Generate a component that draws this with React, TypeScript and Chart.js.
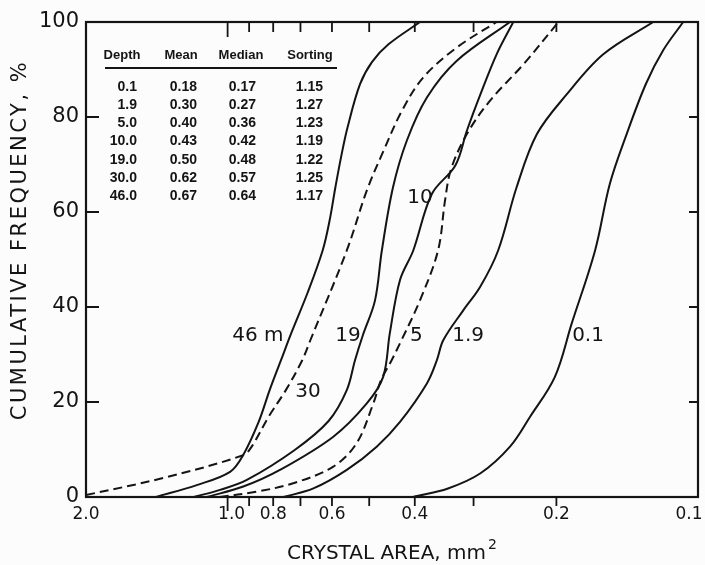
import React, { useEffect, useRef } from "react";
import { Chart, registerables } from "chart.js";

Chart.register(...registerables);

const FONT = '"DejaVu Sans", sans-serif';
const TABLE_FONT = '"Liberation Sans", Arial, sans-serif';
const INK = "#141414";

// Crystal area (mm²) and cumulative frequency (%) for each depth curve
const area01 = [0.403, 0.34, 0.29, 0.251, 0.2275, 0.2015, 0.1856, 0.1655, 0.154, 0.1418, 0.129, 0.1185, 0.1075];
const freq01 = [0, 1.8, 5, 10.6, 16.9, 25.3, 36.5, 51.9, 65.9, 76.4, 87, 94.1, 100];

const area1p9 = [0.761, 0.657, 0.558, 0.482, 0.43, 0.377, 0.359, 0.348, 0.3155, 0.2906, 0.266, 0.243, 0.22, 0.19, 0.159, 0.1245];
const freq1p9 = [0, 1.8, 5.7, 10.6, 15.8, 23.9, 28.8, 33, 39.3, 44.2, 51.9, 65.2, 76.4, 84.8, 93.2, 100];

const area5 = [1.04, 0.87, 0.725, 0.596, 0.532, 0.49, 0.472, 0.448, 0.427, 0.39, 0.357, 0.345, 0.335, 0.31, 0.277, 0.235, 0.198];
const freq5 = [0, 1.1, 2.9, 6.4, 11.3, 19.7, 24.6, 28.8, 33, 41.4, 51.9, 62.4, 69, 76.4, 83.4, 91.1, 100];

const area10 = [1.107, 0.926, 0.774, 0.596, 0.506, 0.467, 0.452, 0.43, 0.403, 0.368, 0.328, 0.31, 0.29, 0.268, 0.247];
const freq10 = [0, 2.2, 5.7, 12.7, 19.7, 25.3, 34.5, 45.7, 51.9, 63.8, 69.8, 77.1, 84.8, 93.2, 100];

const area19 = [1.18, 1.038, 0.91, 0.72, 0.61, 0.558, 0.536, 0.516, 0.486, 0.47, 0.445, 0.416, 0.377, 0.326, 0.251];
const freq19 = [0, 1.5, 3.6, 9.9, 16, 22.5, 28.8, 34, 41.4, 51.9, 65.2, 75, 84.1, 91.8, 100];

const area30 = [2.0, 1.372, 0.927, 0.889, 0.818, 0.752, 0.694, 0.667, 0.558, 0.506, 0.466, 0.426, 0.384, 0.326, 0.268];
const freq30 = [0.4, 4.0, 8.8, 10.6, 16.9, 22.5, 28.8, 33, 51.9, 64.5, 72.9, 81.3, 88.3, 94.6, 100];

const area46 = [1.42, 1.163, 0.988, 0.927, 0.859, 0.814, 0.77, 0.733, 0.676, 0.628, 0.607, 0.59, 0.574, 0.556, 0.523, 0.493, 0.455, 0.39];
const freq46 = [0, 2.5, 5.3, 8.8, 15.8, 22.5, 28.8, 34.4, 43, 51.9, 58.2, 65.2, 71.5, 77.8, 86.9, 91.6, 95.3, 100];

// Curve annotations: text, area, frequency
const curveLabelText = ["46 m", "30", "19", "10", "5", "1.9", "0.1"];
const curveLabelArea = [0.862, 0.675, 0.555, 0.39, 0.397, 0.308, 0.1713];
const curveLabelFreq = [34, 22.1, 34, 62.9, 34, 34, 34];

// Inset table
const tableHeaders = ["Depth", "Mean", "Median", "Sorting"];
const depthValues = ["0.1", "1.9", "5.0", "10.0", "19.0", "30.0", "46.0"];
const meanValues = ["0.18", "0.30", "0.40", "0.43", "0.50", "0.62", "0.67"];
const medianValues = ["0.17", "0.27", "0.36", "0.42", "0.48", "0.57", "0.64"];
const sortingValues = ["1.15", "1.27", "1.23", "1.19", "1.22", "1.25", "1.17"];

// Axis ticks
const xTickValues = [2.0, 1.0, 0.9, 0.8, 0.7, 0.6, 0.5, 0.4, 0.3, 0.2, 0.1];
const xTickLabels = ["2.0", "1.0", "", "0.8", "", "0.6", "", "0.4", "", "0.2", "0.1"];
const yTickValues = [0, 20, 40, 60, 80, 100];

const xTitle = "CRYSTAL AREA, mm";
const yTitle = "CUMULATIVE FREQUENCY, %";

const series = [
  { area: area01, freq: freq01, dashed: false },
  { area: area1p9, freq: freq1p9, dashed: false },
  { area: area5, freq: freq5, dashed: true },
  { area: area10, freq: freq10, dashed: false },
  { area: area19, freq: freq19, dashed: false },
  { area: area30, freq: freq30, dashed: true },
  { area: area46, freq: freq46, dashed: false },
];

const decorPlugin = {
  id: "decor",
  beforeDraw(chart: any) {
    const { ctx, width, height } = chart;
    ctx.save();
    ctx.fillStyle = "#fbfcfb";
    ctx.fillRect(0, 0, width, height);
    ctx.restore();
  },
  afterDraw(chart: any) {
    const { ctx, chartArea: ca } = chart;
    const x = chart.scales.x;
    const y = chart.scales.y;
    ctx.save();
    ctx.strokeStyle = INK;
    ctx.fillStyle = INK;
    ctx.lineWidth = 2.2;
    ctx.strokeRect(ca.left, ca.top, ca.right - ca.left, ca.bottom - ca.top);

    // y ticks (inward both sides)
    ctx.lineWidth = 1.8;
    yTickValues.forEach((v) => {
      if (v === 0 || v === 100) return;
      const py = y.getPixelForValue(v);
      ctx.beginPath();
      ctx.moveTo(ca.left, py);
      ctx.lineTo(ca.left + 13, py);
      ctx.moveTo(ca.right, py);
      ctx.lineTo(ca.right - 9, py);
      ctx.stroke();
    });

    // x ticks: inward at top, outward at bottom
    xTickValues.forEach((v) => {
      if (v === 2.0 || v === 0.1) return;
      const px = x.getPixelForValue(v);
      const major = v === 1.0;
      ctx.beginPath();
      ctx.moveTo(px, ca.top);
      ctx.lineTo(px, ca.top + (major ? 15 : 10));
      ctx.moveTo(px, ca.bottom);
      ctx.lineTo(px, ca.bottom + (major ? 14 : 9));
      ctx.stroke();
    });

    // x tick labels
    ctx.font = `17px ${FONT}`;
    ctx.textAlign = "center";
    ctx.textBaseline = "middle";
    xTickLabels.forEach((t, i) => {
      if (!t) return;
      let px = x.getPixelForValue(xTickValues[i]);
      if (t === "1.0") px += 4;
      if (t === "0.1") px -= 9;
      ctx.fillText(t, px, ca.bottom + 18);
    });

    // x title with superscript
    ctx.font = `20px ${FONT}`;
    ctx.textAlign = "left";
    ctx.textBaseline = "alphabetic";
    const tw = ctx.measureText(xTitle).width;
    ctx.font = `14px ${FONT}`;
    const sw = ctx.measureText("2").width;
    const cx = (ca.left + ca.right) / 2;
    const startX = cx - (tw + sw + 2) / 2;
    ctx.font = `20px ${FONT}`;
    ctx.fillText(xTitle, startX, ca.bottom + 62);
    ctx.font = `14px ${FONT}`;
    ctx.fillText("2", startX + tw + 2, ca.bottom + 52);

    // y title
    ctx.save();
    ctx.translate(21, 240);
    ctx.rotate(-Math.PI / 2);
    ctx.font = `21px ${FONT}`;
    (ctx as any).letterSpacing = "2.5px";
    ctx.textAlign = "center";
    ctx.textBaseline = "middle";
    ctx.fillText(yTitle, 0, 0);
    ctx.restore();

    // curve labels
    ctx.font = `20px ${FONT}`;
    ctx.textAlign = "center";
    ctx.textBaseline = "middle";
    curveLabelText.forEach((t, i) => {
      ctx.fillText(t, x.getPixelForValue(curveLabelArea[i]), y.getPixelForValue(curveLabelFreq[i]));
    });

    // inset table
    const L = ca.left;
    const T = ca.top;
    const headerCenters = [36, 95, 155, 224];
    const colRights = [51, 111, 170, 237];
    ctx.font = `bold 13px ${TABLE_FONT}`;
    ctx.textAlign = "center";
    ctx.textBaseline = "middle";
    tableHeaders.forEach((h, i) => ctx.fillText(h, L + headerCenters[i], T + 33));
    ctx.lineWidth = 1.8;
    ctx.beginPath();
    ctx.moveTo(L + 19, T + 46);
    ctx.lineTo(L + 251, T + 46);
    ctx.stroke();
    ctx.font = `bold 14px ${TABLE_FONT}`;
    ctx.textAlign = "right";
    const cols = [depthValues, meanValues, medianValues, sortingValues];
    for (let r = 0; r < depthValues.length; r++) {
      const ry = T + 65 + r * 18.2;
      cols.forEach((col, c) => ctx.fillText(col[r], L + colRights[c], ry));
    }
    ctx.restore();
  },
};

export default function App() {
  const ref = useRef<HTMLCanvasElement>(null);
  useEffect(() => {
    if (!ref.current) return;
    const chart = new Chart(ref.current, {
      type: "line",
      data: {
        datasets: series.map((s) => ({
          data: s.area.map((a, i) => ({ x: a, y: s.freq[i] })),
          borderColor: INK,
          borderWidth: 2,
          borderDash: s.dashed ? [9, 5] : [],
          pointRadius: 0,
          fill: false,
          tension: 0.35,
        })),
      },
      options: {
        animation: false,
        responsive: true,
        maintainAspectRatio: false,
        layout: { padding: { top: 22, right: 7, left: 0, bottom: 0 } },
        plugins: { legend: { display: false }, tooltip: { enabled: false } },
        scales: {
          x: {
            type: "logarithmic",
            min: 0.1,
            max: 2.0,
            reverse: true,
            grid: { display: false, drawTicks: false },
            border: { display: false },
            ticks: { display: false },
            afterFit: (s: any) => {
              s.height = 68;
            },
          },
          y: {
            min: 0,
            max: 100,
            grid: { display: false, drawTicks: false },
            border: { display: false },
            afterBuildTicks: (s: any) => {
              s.ticks = yTickValues.map((v) => ({ value: v }));
            },
            ticks: {
              font: { family: FONT, size: 21 },
              color: INK,
              padding: 7,
              callback: (v: any) => String(v),
            },
            afterFit: (s: any) => {
              s.width = 86;
            },
          },
        },
      },
      plugins: [decorPlugin],
    });
    return () => chart.destroy();
  }, []);
  return (
    <div style={{ position: "fixed", left: 0, top: 0, width: 705, height: 565 }}>
      <canvas ref={ref} />
    </div>
  );
}
